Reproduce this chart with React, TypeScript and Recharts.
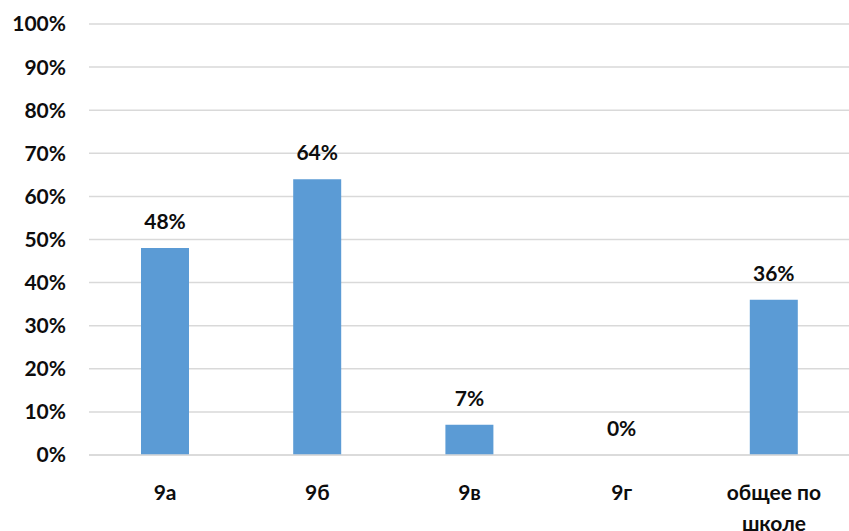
import React from "react";
import { BarChart, Bar, XAxis, YAxis, CartesianGrid, LabelList } from "recharts";

const classes = ["9а", "9б", "9в", "9г", "общее по школе"];
const shares = [48, 64, 7, 0, 36];
const yTicks = [0, 10, 20, 30, 40, 50, 60, 70, 80, 90, 100];

const chartData = classes.map((name, i) => ({ name, value: shares[i] }));

const FONT = "Lato, 'Open Sans', sans-serif";
const INK = "#0d0d0d";

function ClassTick(props: any) {
  const { x, y, payload } = props;
  const words = String(payload.value).split(" ");
  // wrap long category names the way the original does
  const lines = words.length > 2 ? [words.slice(0, 2).join(" "), words.slice(2).join(" ")] : [payload.value];
  return (
    <text x={x} y={y} textAnchor="middle" fontFamily={FONT} fontWeight={700} fontSize={21} fill={INK}>
      {lines.map((l, i) => (
        <tspan key={i} x={x} dy={i === 0 ? 37 : 31}>
          {l}
        </tspan>
      ))}
    </text>
  );
}

// drawn by hand so the 0% bar still gets its label
function ValueLabel(props: any) {
  const { x, y, width, value } = props;
  return (
    <text x={x + width / 2} y={y - 26} dy={7} textAnchor="middle" fontFamily={FONT} fontWeight={700} fontSize={21} fill={INK}>
      {`${Math.round(value)}%`}
    </text>
  );
}

export default function App() {
  return (
    <div style={{ position: "absolute", left: 0, top: 0, width: 849, height: 531, background: "#fff" }}>
      <BarChart
        width={849}
        height={531}
        data={chartData}
        margin={{ top: 24, right: -1, left: 0, bottom: 0 }}
        barCategoryGap={0}
      >
        <CartesianGrid vertical={false} stroke="#d9d9d9" strokeWidth={1.5} />
        <XAxis
          dataKey="name"
          tick={<ClassTick />}
          tickLine={false}
          axisLine={{ stroke: "#d9d9d9", strokeWidth: 1.5 }}
          height={76}
          interval={0}
        />
        <YAxis
          domain={[0, 100]}
          ticks={yTicks}
          tickFormatter={(v) => `${v}%`}
          width={89}
          tickSize={0}
          tickMargin={23}
          axisLine={false}
          tickLine={false}
          tick={{ fontFamily: FONT, fontWeight: 700, fontSize: 21, fill: INK }}
        />
        <Bar
          dataKey="value"
          fill="#5b9bd5"
          barSize={48}
          minPointSize={(v: number) => (v === 0 ? 0.01 : 0)}
          isAnimationActive={false}
        >
          <LabelList dataKey="value" content={<ValueLabel />} />
        </Bar>
      </BarChart>
    </div>
  );
}
